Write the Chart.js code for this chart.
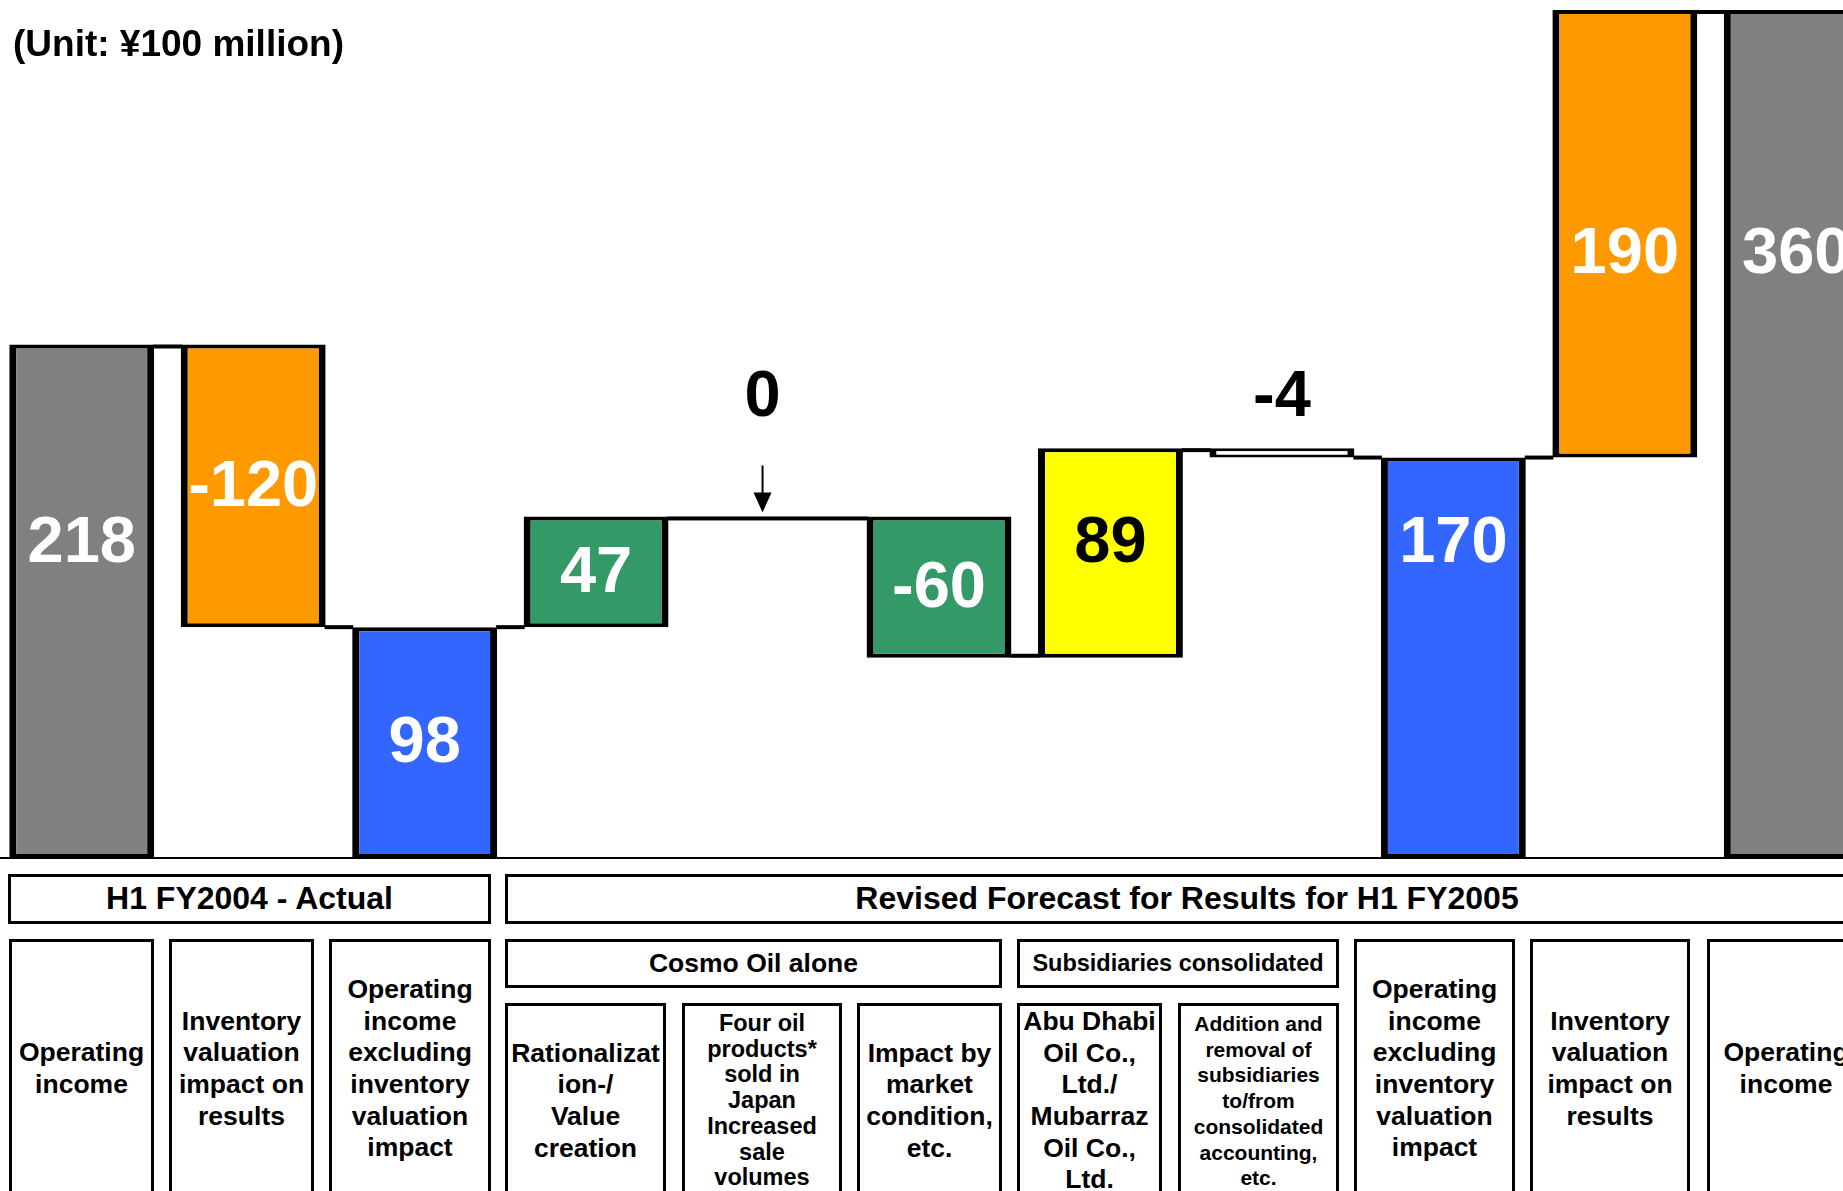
<!DOCTYPE html>
<html lang="en">
<head>
<meta charset="UTF-8">
<title>Operating income bridge</title>
<script src="https://cdn.jsdelivr.net/npm/chart.js"></script>
<style>
  html, body { margin: 0; padding: 0; background: #fff; }
  body {
    width: 1843px; height: 1191px; overflow: hidden; position: relative;
    font-family: "Liberation Sans", Arial, sans-serif; font-weight: bold; color: #000;
  }
  #unit { position: absolute; left: 13px; top: 23px; font-size: 37px; white-space: nowrap; z-index: 2; }
  #chart { position: absolute; left: -4px; top: 0; }
  .box {
    position: absolute; box-sizing: border-box; border: 3px solid #000;
    display: flex; align-items: center; justify-content: center; text-align: center;
    font-size: 26.5px; line-height: 31.7px; white-space: nowrap;
  }
  .head { font-size: 32px; }
  .mid { font-size: 23.5px; }
  .small { font-size: 23.5px; line-height: 25.7px; }
  .tiny { font-size: 21px; line-height: 25.8px; }
</style>
</head>
<body>
<div id="unit">(Unit: ¥100 million)</div>
<canvas id="chart" width="1886" height="870"></canvas>
<div id="table"></div>
<script>
const categories = [
  'Operating income (H1 FY2004)',
  'Inventory valuation impact (H1 FY2004)',
  'Operating income excl. inventory impact (H1 FY2004)',
  'Rationalization/Value creation',
  'Four oil products sold in Japan',
  'Impact by market condition, etc.',
  'Abu Dhabi Oil / Mubarraz Oil',
  'Addition and removal of subsidiaries',
  'Operating income excl. inventory impact (H1 FY2005)',
  'Inventory valuation impact (H1 FY2005)',
  'Operating income (H1 FY2005)'
];
const values = [218, -120, 98, 47, 0, -60, 89, -4, 170, 190, 360];
const isTotal = [true, false, true, false, false, false, false, false, true, false, true];
const barColors = ['#808080', '#FF9900', '#3366FF', '#339966', '#339966', '#339966',
                   '#FFFF00', '#FFFFFF', '#3366FF', '#FF9900', '#808080'];
const labelColors = ['#fff', '#fff', '#fff', '#fff', '#000', '#fff', '#000', '#000', '#fff', '#fff', '#fff'];

// where a label sits (value units) when not in the middle of its bar
const labelLevels = { 0: 134, 4: 196, 6: 134, 7: 196, 8: 134, 9: 257, 10: 257 };

// floating bars [start, end]
const ranges = [], ends = [];
let run = 0;
values.forEach((v, i) => {
  const start = isTotal[i] ? 0 : run;
  run = isTotal[i] ? v : run + v;
  ranges.push([start, run]);
  ends.push(run);
});

const waterfallExtras = {
  id: 'waterfallExtras',
  afterDatasetsDraw(chart) {
    const ctx = chart.ctx, bars = chart.getDatasetMeta(0).data, y = chart.scales.y;
    ctx.save();
    ctx.fillStyle = '#000';
    ctx.strokeStyle = '#000';

    // connectors between neighbouring bars, in the gaps only
    for (let i = 0; i < bars.length - 1; i++) {
      if (values[i] === 0) continue;
      let j = i + 1;
      while (j < bars.length && values[j] === 0) j++;
      if (j >= bars.length) break;
      const level = ends[i], py = y.getPixelForValue(level);
      const offI = level >= Math.max(...ranges[i]) ? 2 : -2;
      const offJ = level >= Math.max(...ranges[j]) ? 2 : -2;
      const cy = py + (offI + offJ) / 2;
      const x1 = bars[i].x + bars[i].width / 2, x2 = bars[j].x - bars[j].width / 2;
      ctx.fillRect(x1 - 1, cy - 2, x2 - x1 + 2, 4);
    }

    // base line
    const y0 = y.getPixelForValue(0);
    ctx.fillRect(0, y0 - 1, chart.width, 2);

    // arrow on the no-change step
    values.forEach((v, i) => {
      if (v !== 0) return;
      const x = bars[i].x - 5, tip = y.getPixelForValue(ends[i]) - 4;
      ctx.lineWidth = 2;
      ctx.beginPath();
      ctx.moveTo(x, tip - 47);
      ctx.lineTo(x, tip - 16);
      ctx.stroke();
      ctx.beginPath();
      ctx.moveTo(x, tip);
      ctx.lineTo(x - 9, tip - 20);
      ctx.lineTo(x + 9, tip - 20);
      ctx.closePath();
      ctx.fill();
    });

    // value labels
    ctx.font = 'bold 65px "Liberation Sans", Arial, sans-serif';
    ctx.textAlign = 'center';
    ctx.textBaseline = 'middle';
    bars.forEach((bar, i) => {
      const ly = labelLevels[i] !== undefined ? y.getPixelForValue(labelLevels[i]) : (bar.y + bar.base) / 2;
      const lx = values[i] === 0 ? bar.x - 5 : bar.x;
      ctx.fillStyle = labelColors[i];
      ctx.fillText(String(values[i]), lx, ly + 2);
    });
    ctx.restore();
  }
};

new Chart(document.getElementById('chart'), {
  type: 'bar',
  data: {
    labels: categories,
    datasets: [{
      data: ranges,
      backgroundColor: c => values[c.dataIndex] === 0 ? 'rgba(0,0,0,0)' : barColors[c.dataIndex],
      borderColor: '#000',
      borderWidth: c => {
        const v = values[c.dataIndex];
        if (v === 0) return 0;
        if (Math.abs(v) < 10) return { top: 3, bottom: 3, left: 7, right: 7 };
        return { top: 4, bottom: 4, left: 7, right: 7 };
      },
      borderSkipped: false,
      barPercentage: 0.845,
      categoryPercentage: 1
    }]
  },
  options: {
    responsive: false,
    devicePixelRatio: 1,
    animation: false,
    layout: { padding: { top: 10, bottom: 12, left: 0, right: 0 } },
    plugins: { legend: { display: false }, tooltip: { enabled: false } },
    scales: {
      x: { display: false },
      y: { display: false, min: 0, max: 360 }
    }
  },
  plugins: [waterfallExtras]
});

// category table under the chart
const tableBoxes = [
  [8, 491, 874, 924, 'H1 FY2004 - Actual', 'head'],
  [505, 1869, 874, 924, 'Revised Forecast for Results for H1 FY2005', 'head'],
  [9, 154, 939, 1199, 'Operating<br>income'],
  [169, 314, 939, 1199, 'Inventory<br>valuation<br>impact on<br>results'],
  [329, 491, 939, 1199, 'Operating<br>income<br>excluding<br>inventory<br>valuation<br>impact'],
  [505, 1002, 939, 988, 'Cosmo Oil alone'],
  [1017, 1339, 939, 988, 'Subsidiaries consolidated', 'mid'],
  [505, 666, 1003, 1199, 'Rationalizat<br>ion-/<br>Value<br>creation'],
  [682, 842, 1003, 1199, 'Four oil<br>products*<br>sold in<br>Japan<br>Increased<br>sale<br>volumes', 'small'],
  [857, 1002, 1003, 1199, 'Impact by<br>market<br>condition,<br>etc.'],
  [1017, 1162, 1003, 1199, 'Abu Dhabi<br>Oil Co.,<br>Ltd./<br>Mubarraz<br>Oil Co.,<br>Ltd.'],
  [1178, 1339, 1003, 1199, 'Addition and<br>removal of<br>subsidiaries<br>to/from<br>consolidated<br>accounting,<br>etc.', 'tiny'],
  [1354, 1515, 939, 1199, 'Operating<br>income<br>excluding<br>inventory<br>valuation<br>impact'],
  [1530, 1690, 939, 1199, 'Inventory<br>valuation<br>impact on<br>results'],
  [1707, 1865, 939, 1199, 'Operating<br>income']
];
const table = document.getElementById('table');
tableBoxes.forEach(([x1, x2, y1, y2, text, cls]) => {
  const d = document.createElement('div');
  d.className = 'box' + (cls ? ' ' + cls : '');
  d.style.left = x1 + 'px';
  d.style.top = y1 + 'px';
  d.style.width = (x2 - x1) + 'px';
  d.style.height = (y2 - y1) + 'px';
  d.innerHTML = '<span>' + text + '</span>';
  table.appendChild(d);
});
</script>
</body>
</html>
